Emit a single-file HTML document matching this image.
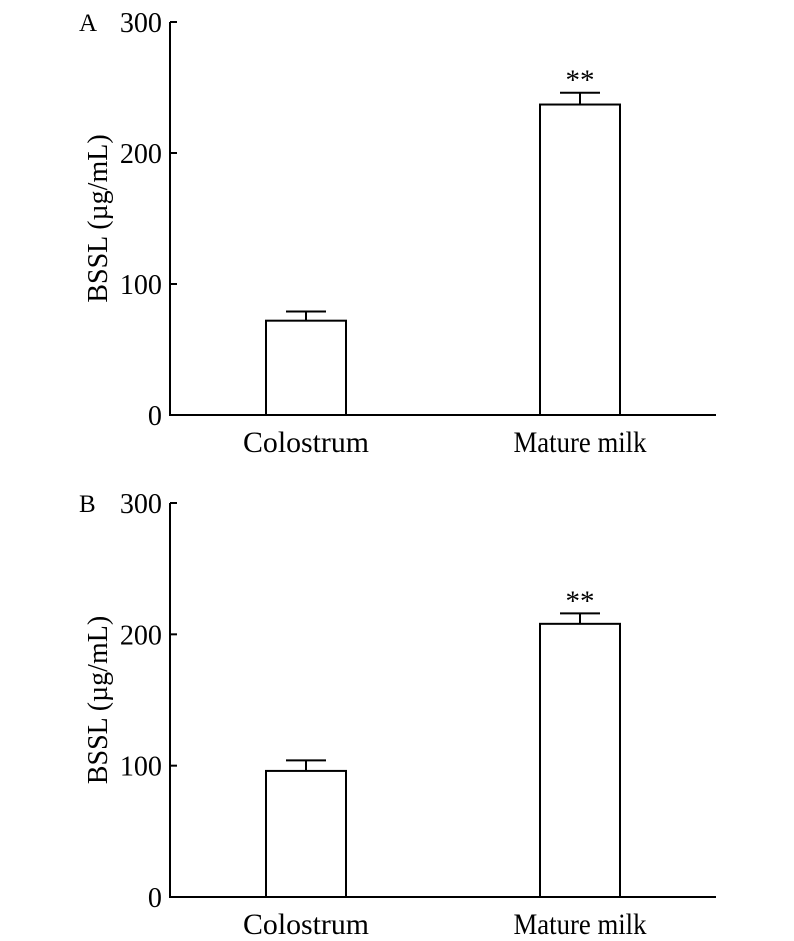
<!DOCTYPE html>
<html><head><meta charset="utf-8"><style>
body{margin:0;background:#fff}
svg{display:block;font-family:"Liberation Serif",serif}
</style></head><body>
<svg id="c" width="794" height="941" xmlns="http://www.w3.org/2000/svg"></svg>
<script>
const categories=["Colostrum","Mature milk"];
const valuesA=[72,237];
const errorsA=[7,9];
const valuesB=[96,208];
const errorsB=[8,8];
const yTicks=[0,100,200,300];
const stars=["","**"];
const NS="http://www.w3.org/2000/svg";
const svg=document.getElementById("c");
function mk(t,a,p){const e=document.createElementNS(NS,t);for(const k in a)e.setAttribute(k,a[k]);(p||svg).appendChild(e);return e;}
const x0=170,x1=716,barL=[266,540],barW=80;
function panel(letter,y0,yTop,vals,errs,nm){
  const g=mk("g",{});
  
  
  const y=v=>y0-(v/300)*(y0-yTop);
  const ax=mk("line",{x1:x0,y1:yTop,x2:x0,y2:y0,stroke:"#000","stroke-width":2},g);
  
  
  const bx=mk("line",{x1:x0-1,y1:y0,x2:x1,y2:y0,stroke:"#000","stroke-width":2},g);
  
  
  yTicks.forEach(t=>{
    const tk=mk("line",{x1:x0,y1:y(t),x2:x0+7,y2:y(t),stroke:"#000","stroke-width":2},g);
    
    
    const tl=mk("text",{x:x0-8,y:y(t)+10,"text-anchor":"end","font-size":29,transform:`translate(${x0-8},0) scale(0.97,1) translate(${-(x0-8)},0)`},g);
    tl.textContent=t;
    
    
  });
  const pl=mk("text",{x:79,y:yTop+9,"font-size":25},g);
  pl.textContent=letter;
  
  
  const yt=mk("text",{x:0,y:0,"text-anchor":"middle","font-size":28,transform:`translate(107,${(y0+yTop)/2}) rotate(-90)`},g);
  yt.textContent="BSSL (µg/mL)";
  
  
  categories.forEach((c,i)=>{
    const cx=barL[i]+barW/2;
    const b=mk("rect",{x:barL[i],y:y(vals[i]),width:barW,height:y0-y(vals[i]),fill:"#fff",stroke:"#000","stroke-width":2},g);
    
    
    const e=mk("path",{d:`M${cx} ${y(vals[i])}V${y(vals[i]+errs[i])}M${cx-20} ${y(vals[i]+errs[i])}H${cx+20}`,stroke:"#000","stroke-width":2,fill:"none"},g);
    
    
    const xl=mk("text",{x:cx,y:y0+37,"text-anchor":"middle","font-size":30,textLength:c.length>9?133:126,lengthAdjust:"spacingAndGlyphs"},g);
    xl.textContent=c;
    
    
    if(stars[i]){
      const s=mk("text",{x:cx,y:y(vals[i]+errs[i])-3,"text-anchor":"middle","font-size":29},g);
      s.textContent=stars[i];
      
      
    }
  });
}
panel("A",415,22,valuesA,errorsA,"panel-a");
panel("B",897,503,valuesB,errorsB,"panel-b");
</script>
</body></html>
